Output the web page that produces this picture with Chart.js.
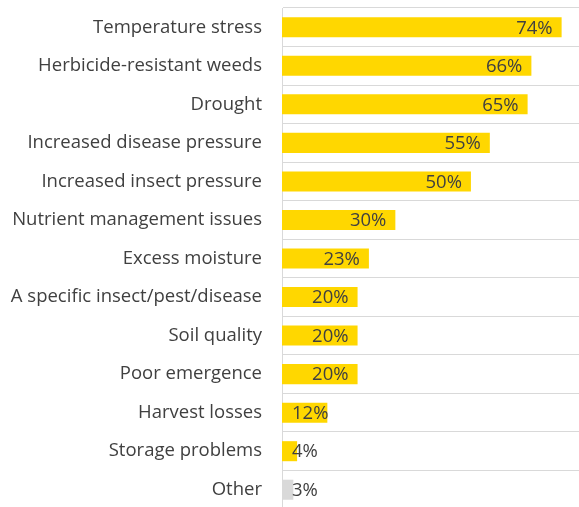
<!DOCTYPE html>
<html>
<head>
<meta charset="utf-8">
<script src="https://cdn.jsdelivr.net/npm/chart.js@4.4.0/dist/chart.umd.min.js"></script>
<style>
    html, body { margin: 0; padding: 0; background: #fff; overflow: hidden; }
    #wrap { position: relative; width: 579px; height: 510px; }
</style>
</head>
<body>
<div id="wrap"><canvas id="concernsChart"></canvas></div>
<script>
const categories = [
    'Temperature stress',
    'Herbicide-resistant weeds',
    'Drought',
    'Increased disease pressure',
    'Increased insect pressure',
    'Nutrient management issues',
    'Excess moisture',
    'A specific insect/pest/disease',
    'Soil quality',
    'Poor emergence',
    'Harvest losses',
    'Storage problems',
    'Other'
];
const percentages = [74, 66, 65, 55, 50, 30, 23, 20, 20, 20, 12, 4, 3];
const barColors = [
    '#FFD700', '#FFD700', '#FFD700', '#FFD700', '#FFD700', '#FFD700', '#FFD700',
    '#FFD700', '#FFD700', '#FFD700', '#FFD700', '#FFD700', '#D9D9D9'
];

// draws the "74%" style labels near the bar ends
const valueLabels = {
    id: 'valueLabels',
    afterDatasetsDraw(chart) {
        const ctx = chart.ctx;
        const meta = chart.getDatasetMeta(0);
        const left = chart.chartArea.left;
        ctx.save();
        ctx.font = '18.5px "Open Sans", sans-serif';
        ctx.fillStyle = '#404040';
        ctx.textAlign = 'right';
        ctx.textBaseline = 'middle';
        meta.data.forEach(function(bar, i) {
            const text = percentages[i] + '%';
            const w = ctx.measureText(text).width;
            const x = Math.max(bar.x - 9, left + 10 + w);
            ctx.fillText(text, x, bar.y + 1);
        });
        ctx.restore();
    }
};

document.addEventListener('DOMContentLoaded', function() {
    const ctx = document.getElementById('concernsChart').getContext('2d');

    new Chart(ctx, {
        type: 'bar',
        data: {
            labels: categories,
            datasets: [{
                data: percentages,
                backgroundColor: barColors,
                borderWidth: 0,
                barPercentage: 0.52,
                categoryPercentage: 1
            }]
        },
        options: {
            indexAxis: 'y',
            responsive: true,
            maintainAspectRatio: false,
            animation: false,
            layout: { padding: { top: 8, bottom: 1, left: 0, right: 0 } },
            plugins: {
                legend: { display: false },
                tooltip: { enabled: false }
            },
            scales: {
                x: {
                    display: false,
                    min: 0,
                    max: 78.6
                },
                y: {
                    afterFit: function(scale) {
                        scale.width = 282;
                        scale.paddingTop = 0;
                        scale.paddingBottom = 0;
                    },
                    grid: {
                        offset: true,
                        color: '#D9D9D9',
                        drawTicks: false
                    },
                    border: { display: true, color: '#D9D9D9' },
                    ticks: {
                        color: '#404040',
                        padding: 20,
                        font: { family: '"Open Sans", sans-serif', size: 18.5 }
                    }
                }
            }
        },
        plugins: [valueLabels]
    });
});
</script>
</body>
</html>
